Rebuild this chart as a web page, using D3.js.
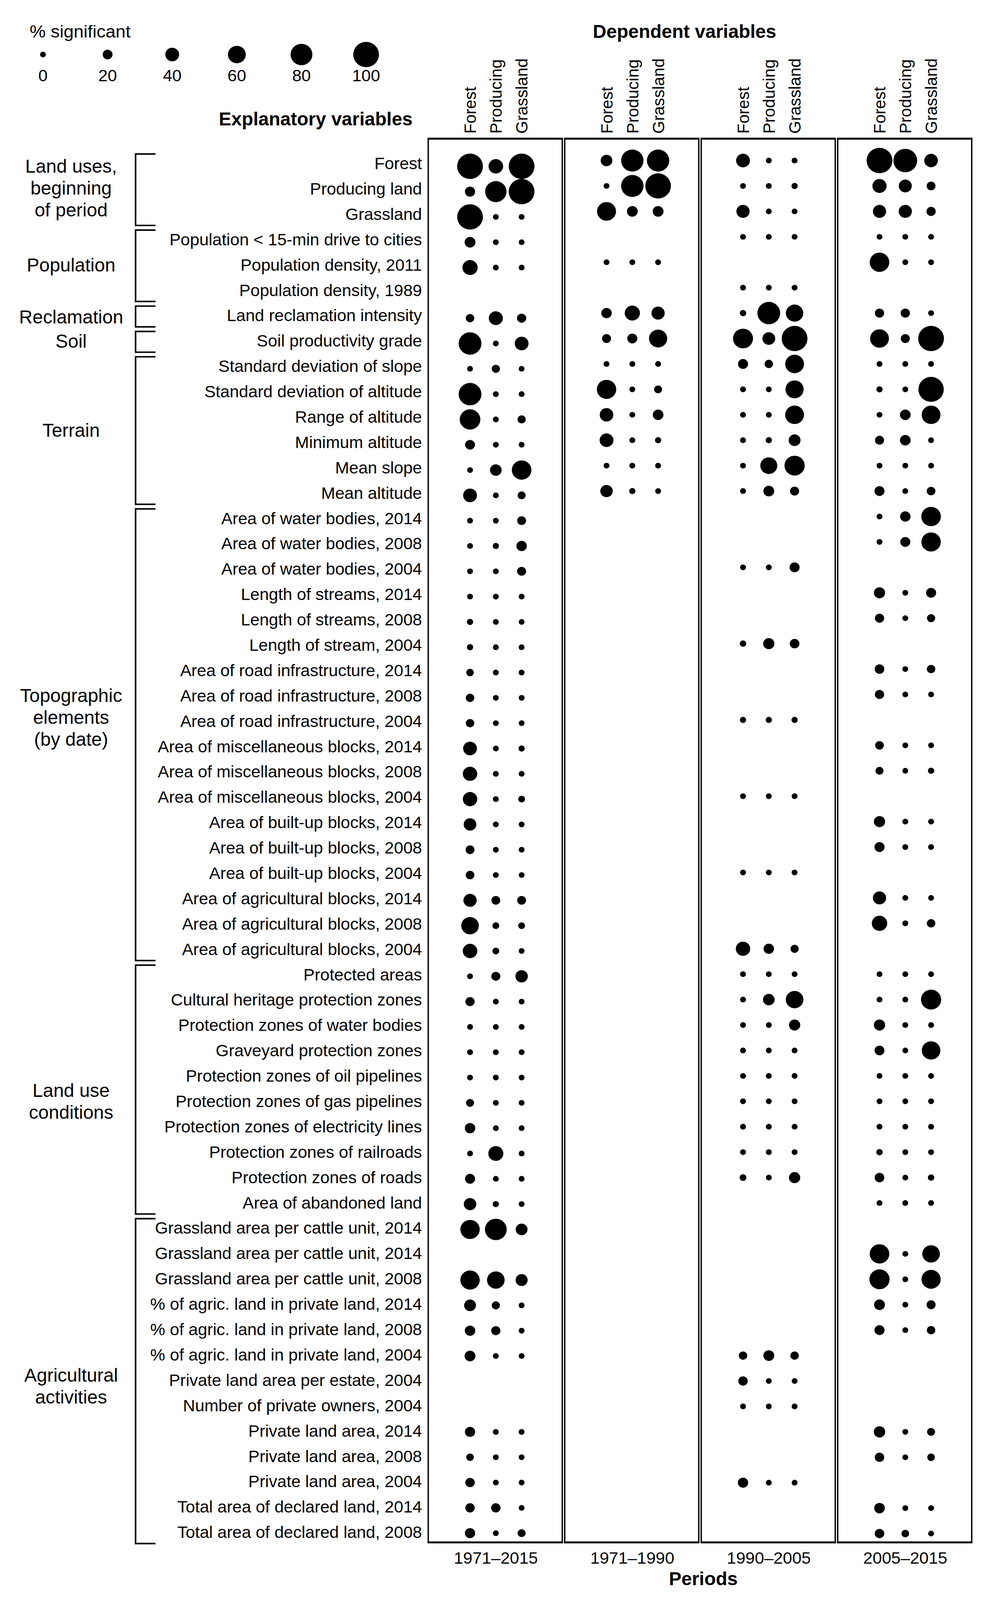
<!DOCTYPE html>
<html>
<head>
<meta charset="utf-8">
<script src="https://cdn.jsdelivr.net/npm/d3@7"></script>
<style>
  html, body { margin: 0; padding: 0; background: #fff; overflow: hidden; }
  svg { display: block; font-family: "Liberation Sans", Arial, Helvetica, sans-serif; }
</style>
</head>
<body>
<svg id="chart"></svg>
<script>
// ---------------- DATA ----------------
const periods = ["1971–2015", "1971–1990", "1990–2005", "2005–2015"];
const depVars = ["Forest", "Producing", "Grassland"];
const legendValues = [0, 20, 40, 60, 80, 100];

const rowLabels = [
  "Forest", "Producing land", "Grassland",
  "Population < 15-min drive to cities", "Population density, 2011", "Population density, 1989",
  "Land reclamation intensity",
  "Soil productivity grade",
  "Standard deviation of slope", "Standard deviation of altitude", "Range of altitude",
  "Minimum altitude", "Mean slope", "Mean altitude",
  "Area of water bodies, 2014", "Area of water bodies, 2008", "Area of water bodies, 2004",
  "Length of streams, 2014", "Length of streams, 2008", "Length of stream, 2004",
  "Area of road infrastructure, 2014", "Area of road infrastructure, 2008", "Area of road infrastructure, 2004",
  "Area of miscellaneous blocks, 2014", "Area of miscellaneous blocks, 2008", "Area of miscellaneous blocks, 2004",
  "Area of built-up blocks, 2014", "Area of built-up blocks, 2008", "Area of built-up blocks, 2004",
  "Area of agricultural blocks, 2014", "Area of agricultural blocks, 2008", "Area of agricultural blocks, 2004",
  "Protected areas", "Cultural heritage protection zones", "Protection zones of water bodies",
  "Graveyard protection zones", "Protection zones of oil pipelines", "Protection zones of gas pipelines",
  "Protection zones of electricity lines", "Protection zones of railroads", "Protection zones of roads",
  "Area of abandoned land",
  "Grassland area per cattle unit, 2014", "Grassland area per cattle unit, 2014", "Grassland area per cattle unit, 2008",
  "% of agric. land in private land, 2014", "% of agric. land in private land, 2008", "% of agric. land in private land, 2004",
  "Private land area per estate, 2004", "Number of private owners, 2004",
  "Private land area, 2014", "Private land area, 2008", "Private land area, 2004",
  "Total area of declared land, 2014", "Total area of declared land, 2008"
];

// % significant, one triple [Forest, Producing, Grassland] per explanatory variable (null = not tested)
const sig_1971_2015 = [
  [100,44,100],[22,78,100],[100,0,0],
  [25,0,0],[47,0,0],null,
  [13,41,17],
  [85,0,40],
  [0,12,0],[85,0,0],[74,0,12],[20,0,0],[0,29,69],[40,0,11],
  [0,0,15],[0,2,23],[0,0,16],
  [0,0,0],[2,0,0],[2,0,0],
  [9,0,0],[13,0,0],[13,0,0],
  [40,0,2],[43,0,0],[43,0,5],
  [34,0,0],[15,0,0],[14,0,0],
  [37,15,15],[59,5,5],[44,5,0],
  [0,16,33],[17,0,0],[0,0,0],[0,0,0],[0,0,0],[11,0,0],[23,0,0],[0,46,0],[21,0,0],[33,2,0],
  [68,80,30],null,[68,59,31],
  [30,12,0],[23,17,0],[25,0,0],
  null,null,
  [22,0,0],[9,0,0],[18,0,0],
  [18,18,0],[22,0,11]
];
const sig_1971_1990 = [
  [29,83,83],[0,83,99],[66,25,25],
  null,[0,0,0],null,
  [23,47,37],
  [16,21,62],
  [0,0,0],[68,0,11],[39,0,24],[40,0,2],[0,0,0],[33,2,0],
  null,null,null,
  null,null,null,
  null,null,null,
  null,null,null,
  null,null,null,
  null,null,null,
  null,null,null,null,null,null,null,null,null,null,
  null,null,null,
  null,null,null,
  null,null,
  null,null,null,
  null,null
];
const sig_1990_2005 = [
  [40,0,0],[0,0,2],[37,0,0],
  [0,0,0],null,[0,0,0],
  [3,85,58],
  [71,35,100],
  [21,13,65],[0,0,62],[0,0,65],[0,2,30],[0,56,72],[0,25,16],
  null,null,[0,0,21],
  null,null,[3,27,19],
  null,null,[2,2,2],
  null,null,[0,0,0],
  null,null,[0,0,0],
  null,null,[43,23,12],
  [0,0,0],[0,29,59],[0,0,27],[0,0,0],[0,0,0],[0,0,0],[0,0,0],[0,0,0],[5,0,27],null,
  null,null,null,
  null,null,[13,25,13],
  [18,0,0],[0,0,0],
  null,null,[22,0,0],
  null,null
];
const sig_2005_2015 = [
  [100,90,39],[42,36,15],[37,37,17],
  [0,0,0],[69,0,0],null,
  [17,17,0],
  [65,16,100],
  [0,0,0],[2,0,98],[0,24,65],[16,24,0],[0,0,0],[21,0,14],
  [0,23,69],[0,21,68],null,
  [27,0,21],[17,0,12],null,
  [19,0,13],[17,0,0],null,
  [14,0,0],[11,0,2],null,
  [27,0,0],[21,0,0],null,
  [37,0,0],[48,0,13],null,
  [0,0,0],[0,0,72],[27,0,0],[20,0,64],[0,0,0],[0,0,0],[0,0,0],[3,0,0],[19,0,3],[0,0,0],
  null,[69,0,59],[72,0,67],
  [25,0,16],[21,0,13],null,
  null,null,
  [28,0,11],[18,0,9],null,
  [24,0,0],[18,9,0]
];
const sigByPeriod = [sig_1971_2015, sig_1971_1990, sig_1990_2005, sig_2005_2015];

// groups of explanatory variables: label lines, first and last row index
const groupLines = [
  ["Land uses,", "beginning", "of period"],
  ["Population"],
  ["Reclamation"],
  ["Soil"],
  ["Terrain"],
  ["Topographic", "elements", "(by date)"],
  ["Land use", "conditions"],
  ["Agricultural", "activities"]
];
const groupFirst = [0, 3, 6, 7, 8, 14, 32, 42];
const groupLast  = [2, 5, 6, 7, 13, 31, 41, 54];

// ---------------- LAYOUT ----------------
// drawing is laid out on a 2544 x 4166 canvas and fitted to the actual viewport
const W = 2544, H = 4166;
const svg = d3.select("#chart")
  .attr("viewBox", `0 0 ${W} ${H}`)
  .attr("preserveAspectRatio", "none")
  .attr("width", window.innerWidth || W)
  .attr("height", window.innerHeight || H);
const FONT = 43, GFONT = 48, BFONT = 48;

const labelY = d3.scalePoint().domain(d3.range(rowLabels.length)).range([425, 3989]);
const dotY = [
  d3.scalePoint().domain(d3.range(rowLabels.length)).range([433, 3992]),
  d3.scalePoint().domain(d3.range(rowLabels.length)).range([418, 3993]),
  d3.scalePoint().domain(d3.range(rowLabels.length)).range([418, 3993]),
  d3.scalePoint().domain(d3.range(rowLabels.length)).range([418, 3993])
];
const panelX = d3.scaleBand().domain(periods).range([1096, 2487]).paddingInner(0.018);
const colX = d3.scalePoint().domain(depVars).range([107, 239]);
const rScale = d3.scaleLinear().domain([0, 100]).range([7.5, 33]);
const panelTop = 361, panelBottom = 4016;

svg.append("rect").attr("width", W).attr("height", H).attr("fill", "#fff");

// ---------------- LEGEND ----------------
svg.append("text").attr("x", 76).attr("y", 98)
  .attr("font-size", 46).text("% significant");
const legX = d3.scalePoint().domain(legendValues).range([110, 937]);
svg.append("g").selectAll("circle").data(legendValues).join("circle")
  .attr("cx", d => legX(d)).attr("cy", 142).attr("r", d => rScale(d)).attr("fill", "#000");
svg.append("g").selectAll("text").data(legendValues).join("text")
  .attr("x", d => legX(d)).attr("y", 212).attr("text-anchor", "middle")
  .attr("font-size", FONT).text(d => d);

// ---------------- HEADERS ----------------
svg.append("text").attr("x", 1752).attr("y", 99).attr("text-anchor", "middle")
  .attr("font-size", BFONT).attr("font-weight", "bold").text("Dependent variables");
svg.append("text").attr("x", 808).attr("y", 327).attr("text-anchor", "middle")
  .attr("font-size", BFONT).attr("font-weight", "bold").text("Explanatory variables");

periods.forEach(p => {
  svg.append("g").selectAll("text").data(depVars).join("text")
    .attr("transform", d => `translate(${panelX(p) + colX(d)},348) rotate(-90)`)
    .attr("dy", "0.36em").attr("font-size", FONT).text(d => d);
});

// ---------------- PANELS ----------------
periods.forEach((p, pi) => {
  const x0 = panelX(p), x1 = x0 + panelX.bandwidth();
  const g = svg.append("g");
  g.append("line").attr("x1", x0).attr("x2", x0).attr("y1", panelTop).attr("y2", panelBottom)
    .attr("stroke", "#000").attr("stroke-width", 3.5);
  g.append("line").attr("x1", x1).attr("x2", x1).attr("y1", panelTop).attr("y2", panelBottom)
    .attr("stroke", "#000").attr("stroke-width", 3.5);
  g.append("line").attr("x1", x0 - 1.75).attr("x2", x1 + 1.75).attr("y1", panelTop).attr("y2", panelTop)
    .attr("stroke", "#000").attr("stroke-width", 5);
  g.append("line").attr("x1", x0 - 1.75).attr("x2", x1 + 1.75).attr("y1", panelBottom).attr("y2", panelBottom)
    .attr("stroke", "#000").attr("stroke-width", 5);

  const pts = [];
  sigByPeriod[pi].forEach((row, ri) => {
    if (!row) return;
    row.forEach((v, ci) => pts.push({ ri, col: depVars[ci], v }));
  });
  g.selectAll("circle").data(pts).join("circle")
    .attr("cx", d => x0 + colX(d.col))
    .attr("cy", d => dotY[pi](d.ri))
    .attr("r", d => rScale(d.v))
    .attr("fill", "#000");

  svg.append("text").attr("x", x0 + colX("Producing")).attr("y", 4071)
    .attr("text-anchor", "middle").attr("font-size", FONT).text(p);
});

svg.append("text").attr("x", 1800).attr("y", 4127).attr("text-anchor", "middle")
  .attr("font-size", BFONT).attr("font-weight", "bold").text("Periods");

// ---------------- ROW LABELS ----------------
svg.append("g").selectAll("text").data(rowLabels).join("text")
  .attr("x", 1080).attr("y", (d, i) => labelY(i)).attr("dy", "0.36em")
  .attr("text-anchor", "end").attr("font-size", FONT).text(d => d);

// ---------------- GROUP BRACKETS ----------------
const labelShift = [-5, -2, 1, -2, -1, -46, 30, 13];
groupLines.forEach((lines, gi) => {
  const top = labelY(groupFirst[gi]) - 24;
  const bot = labelY(groupLast[gi]) + 30;
  svg.append("path")
    .attr("d", `M398,${top}H347V${bot}H398`)
    .attr("fill", "none").attr("stroke", "#000").attr("stroke-width", 4);
  const cy = (top + bot) / 2 + labelShift[gi];
  const lh = 57;
  const t = svg.append("text").attr("text-anchor", "middle").attr("font-size", GFONT);
  lines.forEach((ln, li) => {
    t.append("tspan").attr("x", 182)
      .attr("y", cy + (li - (lines.length - 1) / 2) * lh)
      .attr("dy", "0.36em").text(ln);
  });
});
</script>
</body>
</html>
